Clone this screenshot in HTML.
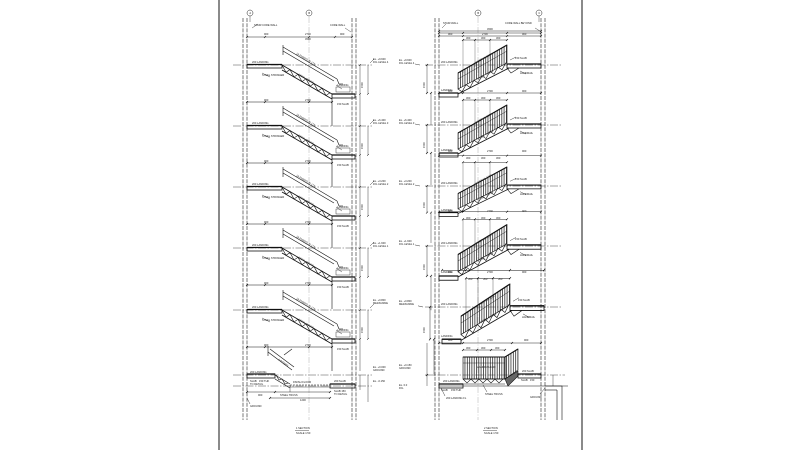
<!DOCTYPE html>
<html><head><meta charset="utf-8">
<style>
html,body{margin:0;padding:0;background:#fff;}
body{width:800px;height:450px;overflow:hidden;}
svg{display:block;}
text{font-family:"Liberation Sans",sans-serif;font-size:2.6px;fill:#222;}
</style></head>
<body>
<svg width="800" height="450" viewBox="0 0 800 450" xmlns="http://www.w3.org/2000/svg">
<defs>
<pattern id="bal" width="2.3" height="40" patternUnits="userSpaceOnUse"><rect x="0" y="0" width="0.75" height="40" fill="#222"/></pattern>

<g id="LL" fill="none" stroke="#111" stroke-width="0.6">
  <rect x="247" y="-0.5" width="35" height="3.5" stroke-width="0.8"/>
  <line x1="247" y1="-0.5" x2="282" y2="-0.5" stroke-width="1.2"/>
  <line x1="282" y1="0" x2="332" y2="29" stroke-width="0.8"/>
  <line x1="282" y1="5" x2="332" y2="34" stroke-width="0.8"/>
  <polyline points="282,0 286,7.3 290,4.6 294,12 298,9.3 302,16.6 306,13.9 310,21.2 314,18.6 318,25.9 322,23.2 326,30.5 330,27.8"/>
  <rect x="332" y="29" width="23" height="4" stroke-width="0.8"/>
  <line x1="332" y1="29" x2="355" y2="29" stroke-width="1.2"/>
  <line x1="332" y1="33" x2="332" y2="61"/>
  <line x1="283" y1="-18" x2="337" y2="14"/>
  <line x1="283" y1="-14" x2="334" y2="16"/>
  <line x1="283" y1="-20" x2="283" y2="-10"/>
  <line x1="337" y1="14" x2="339" y2="19"/>
  <line x1="339" y1="19" x2="343" y2="19"/>
  <line x1="247" y1="37" x2="332" y2="37" stroke-width="0.5"/>
  <line x1="246" y1="38" x2="248" y2="36"/>
  <line x1="264" y1="38" x2="266" y2="36"/>
  <line x1="308" y1="38" x2="310" y2="36"/>
  <line x1="331" y1="38" x2="333" y2="36"/>
  <line x1="262" y1="8" x2="270" y2="12" stroke-width="0.4"/>
  <line x1="336" y1="20" x2="342" y2="24" stroke-width="0.4"/>
  <rect x="336" y="22" width="14" height="5" stroke-width="0.4"/>
  <line x1="360" y1="0" x2="360" y2="61" stroke-width="0.4"/>
  <line x1="359" y1="1" x2="361" y2="-1" stroke-width="0.5"/>
  <line x1="359" y1="30" x2="361" y2="28" stroke-width="0.5"/>
  <line x1="368" y1="0" x2="368" y2="29" stroke-width="0.4"/>
  <line x1="367" y1="30" x2="369" y2="28" stroke-width="0.5"/>
  <line x1="370" y1="-2" x2="374" y2="-6" stroke-width="0.4"/>
</g>

<g id="RR" fill="none" stroke="#111" stroke-width="0.6">
  <polygon points="458,8 507,-20 507,-2 458,24" fill="url(#bal)" stroke-width="0.6"/>
  <line x1="458" y1="8" x2="507" y2="-20" stroke-width="1.1"/>
  <line x1="458" y1="14" x2="507" y2="-14" stroke-width="0.4"/>
  <line x1="458" y1="29" x2="509" y2="3" stroke-width="0.8"/>
  <polyline points="458,24 462,26.8 466,19.6 470,22.4 474,15.2 478,18 482,10.8 486,13.6 490,6.4 494,9.2 498,2 502,4.8 506,-2.4"/>
  <rect x="439" y="28" width="19" height="4" stroke-width="0.8"/>
  <line x1="439" y1="28" x2="458" y2="28" stroke-width="1.2"/>
  <rect x="507" y="-1" width="34" height="4" stroke-width="0.8"/>
  <line x1="507" y1="-1" x2="541" y2="-1" stroke-width="1.2"/>
  <polyline points="507,3 511,8 519,3" />
  <line x1="463" y1="-25" x2="507" y2="-25" stroke-width="0.45"/>
  <line x1="462" y1="-24" x2="464" y2="-26"/>
  <line x1="474" y1="-24" x2="476" y2="-26"/>
  <line x1="489" y1="-24" x2="491" y2="-26"/>
  <line x1="506" y1="-24" x2="508" y2="-26"/>
  <line x1="463" y1="-25" x2="463" y2="8" stroke-width="0.3"/>
  <line x1="475" y1="-25" x2="475" y2="2" stroke-width="0.3"/>
  <line x1="490" y1="-25" x2="490" y2="-6" stroke-width="0.3"/>
  <line x1="439" y1="-32" x2="541" y2="-32" stroke-width="0.45"/>
  <line x1="438" y1="-31" x2="440" y2="-33"/>
  <line x1="462" y1="-31" x2="464" y2="-33"/>
  <line x1="506" y1="-31" x2="508" y2="-33"/>
  <line x1="540" y1="-31" x2="542" y2="-33"/>
  <line x1="427" y1="0" x2="427" y2="28" stroke-width="0.4"/>
  <line x1="426" y1="1" x2="428" y2="-1"/>
  <line x1="426" y1="29" x2="428" y2="27"/>
  <line x1="431" y1="28" x2="431" y2="60" stroke-width="0.4"/>
  <line x1="430" y1="29" x2="432" y2="27"/>
  <line x1="510" y1="-5" x2="516" y2="-8" stroke-width="0.4"/>
  <line x1="520" y1="6" x2="526" y2="9" stroke-width="0.4"/>
  <line x1="415" y1="-1" x2="420" y2="0" stroke-width="0.4"/>
</g>
</defs>

<!-- page border -->
<rect x="218" y="0" width="2" height="450" fill="#8a8a8a"/>
<rect x="581" y="0" width="2" height="450" fill="#8a8a8a"/>

<!-- ===== LEFT SECTION ===== -->
<g fill="none" stroke="#222" stroke-width="0.6">
  <line x1="243" y1="18" x2="243" y2="420" stroke-dasharray="4,1.2"/>
  <line x1="247" y1="18" x2="247" y2="420" stroke-dasharray="4,1.2"/>
  <line x1="352" y1="18" x2="352" y2="420" stroke-dasharray="4,1.2"/>
  <line x1="356" y1="18" x2="356" y2="420" stroke-dasharray="4,1.2"/>
  <line x1="309" y1="17" x2="309" y2="420" stroke="#999" stroke-width="0.4" stroke-dasharray="6,1.5,1,1.5"/>
  <circle cx="250" cy="13" r="3" stroke-width="0.5"/>
  <circle cx="309" cy="13" r="3" stroke-width="0.5"/>
  <line x1="250" y1="16" x2="250" y2="22" stroke-width="0.4"/>
  <line x1="247" y1="37" x2="352" y2="37" stroke-width="0.5"/>
  <line x1="246" y1="38" x2="248" y2="36"/>
  <line x1="264" y1="38" x2="266" y2="36"/>
  <line x1="308" y1="38" x2="310" y2="36"/>
  <line x1="334" y1="38" x2="336" y2="36"/>
  <line x1="351" y1="38" x2="353" y2="36"/>
  <line x1="252" y1="28" x2="258" y2="24" stroke-width="0.4"/>
  <line x1="345" y1="28" x2="351" y2="32" stroke-width="0.4"/>
</g>
<g stroke="#333" stroke-width="0.45" stroke-dasharray="8,1.5,1.5,1.5">
  <line x1="233" y1="65" x2="372" y2="65"/>
  <line x1="233" y1="126" x2="372" y2="126"/>
  <line x1="233" y1="187" x2="372" y2="187"/>
  <line x1="233" y1="248" x2="372" y2="248"/>
  <line x1="233" y1="310" x2="372" y2="310"/>
  <line x1="233" y1="375" x2="372" y2="375"/>
  <line x1="233" y1="386" x2="372" y2="386"/>
</g>
<use href="#LL" transform="translate(0,65)"/>
<use href="#LL" transform="translate(0,126)"/>
<use href="#LL" transform="translate(0,187)"/>
<use href="#LL" transform="translate(0,248)"/>
<use href="#LL" transform="translate(0,310)"/>

<!-- left ground level -->
<g fill="none" stroke="#111" stroke-width="0.6">
  <rect x="247" y="374" width="28" height="4" stroke-width="0.8"/>
  <line x1="247" y1="374" x2="275" y2="374" stroke-width="1.2"/>
  <line x1="275" y1="375" x2="290" y2="384"/>
  <line x1="275" y1="379" x2="290" y2="388"/>
  <polyline points="276,375 279,380 282,379 285,384 288,383"/>
  <line x1="290" y1="385" x2="330" y2="385" stroke-dasharray="2,1"/>
  <line x1="290" y1="387" x2="330" y2="387" stroke-width="0.4"/>
  <rect x="330" y="384" width="25" height="4" stroke-width="0.8"/>
  <line x1="330" y1="384" x2="355" y2="384" stroke-width="1.2"/>
  <line x1="268" y1="352" x2="292" y2="370"/>
  <line x1="270" y1="349" x2="294" y2="367"/>
  <line x1="268" y1="346" x2="268" y2="356"/>
  <line x1="284" y1="355" x2="292" y2="349"/>
  <line x1="247" y1="392" x2="330" y2="392" stroke-width="0.45"/>
  <line x1="270" y1="398" x2="330" y2="398" stroke-width="0.45"/>
  <line x1="246" y1="393" x2="248" y2="391"/>
  <line x1="274" y1="393" x2="276" y2="391"/>
  <line x1="329" y1="393" x2="331" y2="391"/>
  <line x1="269" y1="399" x2="271" y2="397"/>
  <line x1="329" y1="399" x2="331" y2="397"/>
  <line x1="247" y1="398" x2="250" y2="404" stroke-width="0.4"/>
  <line x1="360" y1="375" x2="360" y2="390" stroke-width="0.4"/>
  <line x1="368" y1="375" x2="368" y2="402" stroke-width="0.4"/>
  <line x1="290" y1="385" x2="290" y2="392" stroke-width="0.4"/>
</g>

<!-- left texts -->
<g>
  <text x="250.3" y="14" font-size="2.2" text-anchor="middle">A</text>
  <text x="309.3" y="14" font-size="2.2" text-anchor="middle">B</text>
  <text x="254" y="26">STAIR CORE WALL</text>
  <text x="330" y="26">CORE WALL</text>
  <text x="264" y="35">900</text><text x="305" y="35">2700</text><text x="340" y="35">900</text>
  <text x="305" y="40">4500</text>

  <text x="252" y="63">200 LANDING</text><text x="262" y="76">STEEL STRINGER</text>
  <text x="337" y="86">LANDING</text><text x="337" y="105">150 SLAB</text>
  <text x="264" y="101">900</text><text x="305" y="101">2700</text>
  <text x="373" y="60">EL. +9.600</text><text x="373" y="63">FFL LEVEL 4</text>
  <text transform="translate(298,75) rotate(30)">STEEL TRUSS</text>
  <text transform="translate(296,54) rotate(31)">18 RISERS @ 175</text>
  <text transform="translate(363,88) rotate(-90)">1500</text>

  <text x="252" y="124">200 LANDING</text><text x="262" y="137">STEEL STRINGER</text>
  <text x="337" y="147">LANDING</text><text x="337" y="166">150 SLAB</text>
  <text x="264" y="162">900</text><text x="305" y="162">2700</text>
  <text x="373" y="121">EL. +6.400</text><text x="373" y="124">FFL LEVEL 3</text>
  <text transform="translate(298,136) rotate(30)">STEEL TRUSS</text>
  <text transform="translate(296,115) rotate(31)">18 RISERS @ 175</text>
  <text transform="translate(363,149) rotate(-90)">1500</text>

  <text x="252" y="185">200 LANDING</text><text x="262" y="198">STEEL STRINGER</text>
  <text x="337" y="208">LANDING</text><text x="337" y="227">150 SLAB</text>
  <text x="264" y="223">900</text><text x="305" y="223">2700</text>
  <text x="373" y="182">EL. +3.200</text><text x="373" y="185">FFL LEVEL 2</text>
  <text transform="translate(298,197) rotate(30)">STEEL TRUSS</text>
  <text transform="translate(296,176) rotate(31)">18 RISERS @ 175</text>
  <text transform="translate(363,210) rotate(-90)">1500</text>

  <text x="252" y="246">200 LANDING</text><text x="262" y="259">STEEL STRINGER</text>
  <text x="337" y="269">LANDING</text><text x="337" y="288">150 SLAB</text>
  <text x="264" y="284">900</text><text x="305" y="284">2700</text>
  <text x="373" y="244">EL. +1.600</text><text x="373" y="247">FFL LEVEL 1</text>
  <text transform="translate(298,258) rotate(30)">STEEL TRUSS</text>
  <text transform="translate(296,237) rotate(31)">18 RISERS @ 175</text>
  <text transform="translate(363,271) rotate(-90)">1500</text>

  <text x="252" y="308">200 LANDING</text><text x="262" y="321">STEEL STRINGER</text>
  <text x="337" y="331">LANDING</text><text x="337" y="350">150 SLAB</text>
  <text x="264" y="346">900</text><text x="305" y="346">2700</text>
  <text x="373" y="301">EL. +0.800</text><text x="373" y="304">MEZZANINE</text>
  <text transform="translate(298,320) rotate(30)">STEEL TRUSS</text>
  <text transform="translate(296,299) rotate(31)">18 RISERS @ 175</text>
  <text transform="translate(363,333) rotate(-90)">1500</text>

  <text x="250" y="373">200 LANDING</text>
  <text x="250" y="382">SLAB</text><text x="259" y="382">150 THK</text>
  <text x="250" y="385">TO DETAIL</text>
  <text x="293" y="383">FINISH FLOOR</text>
  <text x="334" y="382">200 SLAB</text>
  <text x="334" y="392">SLAB 150</text><text x="334" y="395">TO DETAIL</text>
  <text x="280" y="396">STEEL TRUSS</text>
  <text x="300" y="401">1200</text><text x="258" y="396">900</text>
  <text x="250" y="407">GROUND</text>
  <text transform="translate(278,360) rotate(36)">5 RISERS</text>
  <text x="373" y="368">EL. +0.000</text><text x="373" y="371">GROUND</text>
  <text x="373" y="382">EL. -0.150</text>
  <text x="296" y="429" font-size="3">1  SECTION</text>
  <line x1="295" y1="430.5" x2="309" y2="430.5" stroke="#222" stroke-width="0.4"/>
  <text x="296" y="434" font-size="2.4">SCALE 1:50</text>
</g>

<!-- ===== RIGHT SECTION ===== -->
<g fill="none" stroke="#222" stroke-width="0.6">
  <line x1="435" y1="18" x2="435" y2="420" stroke-dasharray="4,1.2"/>
  <line x1="439" y1="18" x2="439" y2="420" stroke-dasharray="4,1.2"/>
  <line x1="541" y1="18" x2="541" y2="420" stroke-dasharray="4,1.2"/>
  <line x1="545" y1="18" x2="545" y2="420" stroke-dasharray="4,1.2"/>
  <line x1="478" y1="17" x2="478" y2="420" stroke="#999" stroke-width="0.4" stroke-dasharray="6,1.5,1,1.5"/>
  <circle cx="478" cy="13" r="3" stroke-width="0.5"/>
  <circle cx="539" cy="13" r="3" stroke-width="0.5"/>
  <line x1="539" y1="16" x2="539" y2="22" stroke-width="0.4"/>
  <line x1="439" y1="31" x2="541" y2="31" stroke-width="0.5"/>
  <line x1="439" y1="36" x2="541" y2="36" stroke-width="0.5"/>
  <line x1="438" y1="32" x2="440" y2="30"/><line x1="540" y1="32" x2="542" y2="30"/>
  <line x1="438" y1="37" x2="440" y2="35"/><line x1="462" y1="37" x2="464" y2="35"/>
  <line x1="506" y1="37" x2="508" y2="35"/><line x1="540" y1="37" x2="542" y2="35"/>
  <line x1="442" y1="28" x2="446" y2="24" stroke-width="0.4"/>
  <line x1="535" y1="28" x2="540" y2="31" stroke-width="0.4"/>
</g>
<g stroke="#333" stroke-width="0.45" stroke-dasharray="8,1.5,1.5,1.5">
  <line x1="425" y1="65" x2="562" y2="65"/>
  <line x1="425" y1="125" x2="562" y2="125"/>
  <line x1="425" y1="186" x2="562" y2="186"/>
  <line x1="425" y1="246" x2="562" y2="246"/>
  <line x1="425" y1="307" x2="562" y2="307"/>
  <line x1="425" y1="375" x2="565" y2="375"/>
</g>
<use href="#RR" transform="translate(0,65)"/>
<use href="#RR" transform="translate(0,125)"/>
<use href="#RR" transform="translate(0,186) scale(1,0.95)"/>
<use href="#RR" transform="translate(0,246) scale(1,1.07)"/>
<use href="#RR" transform="translate(3,307) scale(1,1.15)"/>

<!-- right ground level -->
<g fill="none" stroke="#111" stroke-width="0.6">
  <rect x="439" y="384" width="24" height="4" stroke-width="0.8"/>
  <line x1="439" y1="384" x2="463" y2="384" stroke-width="1.2"/>
  <rect x="463" y="357" width="42" height="22" fill="url(#bal)"/>
  <line x1="463" y1="357" x2="505" y2="357" stroke-width="1.1"/>
  <line x1="463" y1="363" x2="505" y2="363" stroke-width="0.4"/>
  <polygon points="505,357 518,349 518,370 505,379" fill="url(#bal)"/>
  <line x1="505" y1="357" x2="518" y2="349" stroke-width="1.1"/>
  <polygon points="505,379 518,371 518,376 508,386" fill="#666"/>
  <line x1="463" y1="379" x2="505" y2="379" stroke-width="0.8"/>
  <polyline points="463,379 467,383 471,379 475,383 479,379 483,383 487,379 491,383 495,379 499,383 503,379"/>
  <line x1="463" y1="384" x2="505" y2="384" stroke-width="0.5"/>
  <rect x="518" y="374" width="23" height="4" stroke-width="0.8"/>
  <line x1="518" y1="374" x2="541" y2="374" stroke-width="1.2"/>
  <line x1="439" y1="386" x2="568" y2="386" stroke-width="0.6"/>
  <polyline points="545,386 562,386 562,420"/>
  <line x1="557" y1="390" x2="557" y2="420"/>
  <line x1="545" y1="390" x2="557" y2="390"/>
  <line x1="463" y1="350" x2="505" y2="350" stroke-width="0.45"/>
  <line x1="462" y1="351" x2="464" y2="349"/><line x1="476" y1="351" x2="478" y2="349"/>
  <line x1="490" y1="351" x2="492" y2="349"/><line x1="504" y1="351" x2="506" y2="349"/>
  <line x1="439" y1="343" x2="541" y2="343" stroke-width="0.45"/>
  <line x1="438" y1="344" x2="440" y2="342"/><line x1="462" y1="344" x2="464" y2="342"/>
  <line x1="511" y1="344" x2="513" y2="342"/><line x1="540" y1="344" x2="542" y2="342"/>
  <line x1="427" y1="343" x2="427" y2="386" stroke-width="0.4"/>
  <line x1="426" y1="376" x2="428" y2="374"/>
  <line x1="553" y1="375" x2="553" y2="386" stroke-width="0.4"/>
  <line x1="441" y1="388" x2="445" y2="396" stroke-width="0.4"/>
  <line x1="540" y1="394" x2="545" y2="388" stroke-width="0.4"/>
  <line x1="483" y1="385" x2="487" y2="392" stroke-width="0.4"/>
</g>

<!-- right texts -->
<g>
  <text x="478.3" y="14" font-size="2.2" text-anchor="middle">B</text>
  <text x="539.3" y="14" font-size="2.2" text-anchor="middle">C</text>
  <text x="443" y="24">STAIR WALL</text>
  <text x="505" y="24">CORE WALL BEYOND</text>
  <text x="487" y="30">4500</text>
  <text x="448" y="35">900</text><text x="482" y="35">2700</text><text x="522" y="35">900</text>

  <text x="399" y="61">EL. +9.600</text><text x="399" y="64">FFL LEVEL 4</text>
  <text x="441" y="63">200 LANDING</text><text x="515" y="59">150 SLAB</text>
  <text x="520" y="74">HANDRAIL</text><text x="441" y="91">LANDING</text>
  <text transform="translate(475,64) rotate(-29)">HANDRAIL 1100</text>
  <text transform="translate(478,80) rotate(-29)">STEEL TRUSS</text>
  <text transform="translate(425,88) rotate(-90)">1500</text>
  <text x="466" y="39">300</text><text x="481" y="39">300</text><text x="496" y="39">300</text>

  <text x="399" y="121">EL. +6.400</text><text x="399" y="124">FFL LEVEL 3</text>
  <text x="441" y="123">200 LANDING</text><text x="515" y="119">150 SLAB</text>
  <text x="520" y="134">HANDRAIL</text><text x="441" y="151">LANDING</text>
  <text transform="translate(475,124) rotate(-29)">HANDRAIL 1100</text>
  <text transform="translate(478,140) rotate(-29)">STEEL TRUSS</text>
  <text transform="translate(425,148) rotate(-90)">1500</text>
  <text x="466" y="99">300</text><text x="481" y="99">300</text><text x="496" y="99">300</text>
  <text x="448" y="92">900</text><text x="487" y="92">2700</text><text x="522" y="92">900</text>

  <text x="399" y="182">EL. +3.200</text><text x="399" y="185">FFL LEVEL 2</text>
  <text x="441" y="184">200 LANDING</text><text x="515" y="180">150 SLAB</text>
  <text x="520" y="195">HANDRAIL</text><text x="441" y="211">LANDING</text>
  <text transform="translate(475,185) rotate(-29)">HANDRAIL 1100</text>
  <text transform="translate(478,201) rotate(-29)">STEEL TRUSS</text>
  <text transform="translate(425,208) rotate(-90)">1500</text>
  <text x="466" y="159">300</text><text x="481" y="159">300</text><text x="496" y="159">300</text>
  <text x="448" y="152">900</text><text x="487" y="152">2700</text><text x="522" y="152">900</text>

  <text x="399" y="242">EL. +1.600</text><text x="399" y="245">FFL LEVEL 1</text>
  <text x="441" y="244">200 LANDING</text><text x="515" y="240">150 SLAB</text>
  <text x="520" y="256">HANDRAIL</text><text x="441" y="273">LANDING</text>
  <text transform="translate(475,245) rotate(-29)">HANDRAIL 1100</text>
  <text transform="translate(478,262) rotate(-29)">STEEL TRUSS</text>
  <text transform="translate(425,270) rotate(-90)">1500</text>
  <text x="466" y="219">300</text><text x="481" y="219">300</text><text x="496" y="219">300</text>
  <text x="448" y="212">900</text><text x="487" y="212">2700</text><text x="522" y="212">900</text>

  <text x="399" y="302">EL. +0.800</text><text x="399" y="305">MEZZANINE</text>
  <text x="441" y="305">200 LANDING</text><text x="518" y="301">150 SLAB</text>
  <text x="522" y="318">HANDRAIL</text><text x="441" y="337">LANDING</text>
  <text transform="translate(478,306) rotate(-29)">HANDRAIL 1100</text>
  <text transform="translate(481,323) rotate(-29)">STEEL TRUSS</text>
  <text transform="translate(425,333) rotate(-90)">1500</text>
  <text x="468" y="280">300</text><text x="483" y="280">300</text><text x="498" y="280">300</text>
  <text x="448" y="273">900</text><text x="487" y="273">2700</text><text x="522" y="273">900</text>

  <text x="466" y="349">300</text><text x="481" y="349">300</text><text x="495" y="349">300</text>
  <text x="448" y="341">900</text><text x="487" y="341">2700</text><text x="524" y="341">900</text>
  <text x="399" y="366">EL. +0.150</text><text x="399" y="369">GROUND</text>
  <text x="399" y="386">EL. 0.0</text><text x="399" y="389">FFL</text>
  <text x="443" y="382">200 LANDING</text>
  <text x="441" y="391">SLAB</text><text x="451" y="391">150 THK</text>
  <text x="477" y="368">HANDRAIL</text><text x="490" y="368">1100</text>
  <text x="485" y="395">STEEL TRUSS</text>
  <text x="522" y="372">200 SLAB</text>
  <text x="521" y="381">SLAB</text><text x="530" y="381">150</text>
  <text x="446" y="399">200 LANDING FL</text>
  <text x="530" y="398">GROUND</text>
  <text x="484" y="429" font-size="3">2  SECTION</text>
  <line x1="483" y1="430.5" x2="497" y2="430.5" stroke="#222" stroke-width="0.4"/>
  <text x="484" y="434" font-size="2.4">SCALE 1:50</text>
</g>
</svg>
</body></html>
